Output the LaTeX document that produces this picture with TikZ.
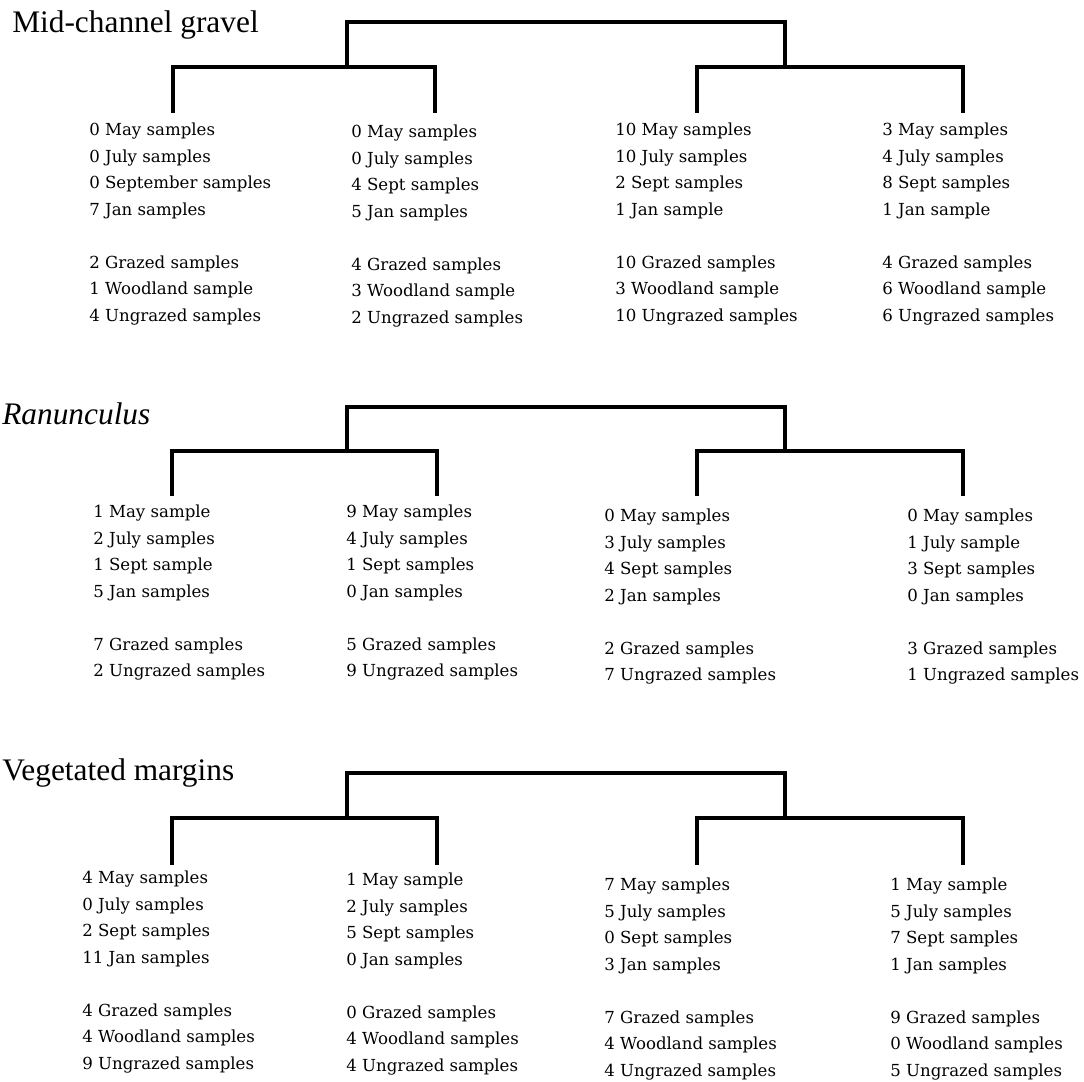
\documentclass[tikz,border=0pt]{standalone}
\usepackage{fontspec}
\setmainfont{Liberation Serif}
\newfontfamily\tallyfont{DejaVu Serif}

\tikzset{heading/.style={anchor=base west,inner sep=0pt,font=\fontsize{22.3}{26}\selectfont},
         tally/.style={anchor=north west,inner sep=0pt,align=left,
                       font=\tallyfont\fontsize{11.8}{18.85}\selectfont},
         branch/.style={line width=2.4pt,line cap=rect,line join=miter}}
\newcommand{\gap}{\\[18.85pt]}

\begin{document}
\begin{tikzpicture}[x=0.025cm,y=-0.025cm]
  \useasboundingbox (0,0) rectangle (1084,1082);

  % Mid-channel gravel
  \node[heading] (mc) at (12,33) {Mid-channel gravel};
  \node[tally] (mc1) at (89,123)  {0 May samples\\0 July samples\\0 September samples\\7 Jan samples\gap
                                   2 Grazed samples\\1 Woodland sample\\4 Ungrazed samples};
  \node[tally] (mc2) at (351,125) {0 May samples\\0 July samples\\4 Sept samples\\5 Jan samples\gap
                                   4 Grazed samples\\3 Woodland sample\\2 Ungrazed samples};
  \node[tally] (mc3) at (615,123) {10 May samples\\10 July samples\\2 Sept samples\\1 Jan sample\gap
                                   10 Grazed samples\\3 Woodland sample\\10 Ungrazed samples};
  \node[tally] (mc4) at (882,123) {3 May samples\\4 July samples\\8 Sept samples\\1 Jan sample\gap
                                   4 Grazed samples\\6 Woodland sample\\6 Ungrazed samples};

  % Ranunculus
  \node[heading] (ra) at (2,425) {\itshape Ranunculus};
  \node[tally] (ra1) at (93,505)  {1 May sample\\2 July samples\\1 Sept sample\\5 Jan samples\gap
                                   7 Grazed samples\\2 Ungrazed samples};
  \node[tally] (ra2) at (346,505) {9 May samples\\4 July samples\\1 Sept samples\\0 Jan samples\gap
                                   5 Grazed samples\\9 Ungrazed samples};
  \node[tally] (ra3) at (604,509) {0 May samples\\3 July samples\\4 Sept samples\\2 Jan samples\gap
                                   2 Grazed samples\\7 Ungrazed samples};
  \node[tally] (ra4) at (907,509) {0 May samples\\1 July sample\\3 Sept samples\\0 Jan samples\gap
                                   3 Grazed samples\\1 Ungrazed samples};

  % Vegetated margins
  \node[heading] (vm) at (2,780) {Vegetated margins};
  \node[tally] (vm1) at (82,871)  {4 May samples\\0 July samples\\2 Sept samples\\11 Jan samples\gap
                                   4 Grazed samples\\4 Woodland samples\\9 Ungrazed samples};
  \node[tally] (vm2) at (346,873) {1 May sample\\2 July samples\\5 Sept samples\\0 Jan samples\gap
                                   0 Grazed samples\\4 Woodland samples\\4 Ungrazed samples};
  \node[tally] (vm3) at (604,878) {7 May samples\\5 July samples\\0 Sept samples\\3 Jan samples\gap
                                   7 Grazed samples\\4 Woodland samples\\4 Ungrazed samples};
  \node[tally] (vm4) at (890,878) {1 May sample\\5 July samples\\7 Sept samples\\1 Jan samples\gap
                                   9 Grazed samples\\0 Woodland samples\\5 Ungrazed samples};

  % the trees
  \foreach \p/\t/\s/\e/\a/\b in {mc/22/67/111/173/435,ra/407/451/494/172/437,vm/773/818/863/172/437}{
    \coordinate (\p-t) at (566,\t);
    \coordinate (\p-l) at (347,\s);
    \coordinate (\p-r) at (785,\s);
    \coordinate (\p-a) at (\a,\e);
    \coordinate (\p-b) at (\b,\e);
    \coordinate (\p-c) at (697,\e);
    \coordinate (\p-d) at (963,\e);
    \draw[branch] (\p-l) |- (\p-t) -| (\p-r);
    \draw[branch] (\p-a) |- (\p-l) -| (\p-b);
    \draw[branch] (\p-c) |- (\p-r) -| (\p-d);
  }
\end{tikzpicture}
\end{document}
